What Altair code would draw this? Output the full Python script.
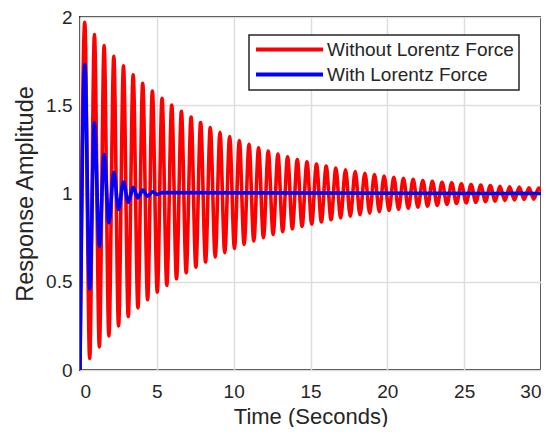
import altair as alt
import pandas as pd

# ---- data ----
series_names = ["Without Lorentz Force", "With Lorentz Force"]

# red curve (without Lorentz force): start point, peaks and troughs
red_start_t = [0.0]
red_start_v = [0.0]
red_peak_t = [0.31, 0.94, 1.57, 2.20, 2.83, 3.46, 4.08, 4.71, 5.34, 5.97, 6.60, 7.23,
              7.85, 8.48, 9.11, 9.74, 10.37, 11.00, 11.62, 12.25, 12.88, 13.51, 14.14, 14.77,
              15.39, 16.02, 16.65, 17.28, 17.91, 18.54, 19.16, 19.79, 20.42, 21.05, 21.68, 22.31,
              22.93, 23.56, 24.19, 24.82, 25.45, 26.08, 26.70, 27.33, 27.96, 28.59, 29.22, 29.85]
red_peak_v = [1.970, 1.901, 1.838, 1.778, 1.723, 1.672, 1.624, 1.580, 1.539, 1.501, 1.466, 1.433,
              1.402, 1.374, 1.347, 1.323, 1.300, 1.279, 1.259, 1.241, 1.224, 1.208, 1.193, 1.179,
              1.167, 1.155, 1.144, 1.134, 1.124, 1.115, 1.107, 1.099, 1.092, 1.086, 1.080, 1.074,
              1.069, 1.064, 1.060, 1.055, 1.051, 1.048, 1.045, 1.041, 1.038, 1.036, 1.033, 1.031]
red_trough_t = [0.63, 1.26, 1.88, 2.51, 3.14, 3.77, 4.40, 5.03, 5.65, 6.28, 6.91, 7.54,
                8.17, 8.80, 9.42, 10.05, 10.68, 11.31, 11.94, 12.57, 13.19, 13.82, 14.45, 15.08,
                15.71, 16.34, 16.96, 17.59, 18.22, 18.85, 19.48, 20.11, 20.73, 21.36, 21.99, 22.62,
                23.25, 23.88, 24.50, 25.13, 25.76, 26.39, 27.02, 27.65, 28.27, 28.90, 29.53, 30.16]
red_trough_v = [0.065, 0.131, 0.193, 0.250, 0.303, 0.352, 0.398, 0.441, 0.480, 0.517, 0.551, 0.583,
                0.612, 0.640, 0.665, 0.689, 0.711, 0.731, 0.750, 0.768, 0.784, 0.800, 0.814, 0.827,
                0.839, 0.851, 0.861, 0.871, 0.880, 0.889, 0.897, 0.904, 0.911, 0.917, 0.923, 0.928,
                0.933, 0.938, 0.943, 0.947, 0.950, 0.954, 0.957, 0.960, 0.963, 0.966, 0.968, 0.970]

# blue curve (with Lorentz force): start, extrema, then settled
blue_t = [0.0, 0.31, 0.63, 0.94, 1.26, 1.57, 1.88, 2.20, 2.51, 2.83, 3.14, 3.46,
          3.77, 4.08, 4.40, 4.71, 5.03, 5.34, 30.0]
blue_v = [0.0, 1.73, 0.46, 1.40, 0.70, 1.22, 0.835, 1.12, 0.91, 1.065, 0.95, 1.035,
          0.975, 1.02, 0.985, 1.01, 0.995, 1.005, 1.0]

x_ticks = [0, 5, 10, 15, 20, 25, 30]
y_ticks = [0, 0.5, 1, 1.5, 2]

# ---- tables ----
red_rows = sorted(
    list(zip(red_start_t, red_start_v))
    + list(zip(red_peak_t, red_peak_v))
    + list(zip(red_trough_t, red_trough_v))
)
red_df = pd.DataFrame(red_rows, columns=["t", "v"])
red_df["series"] = series_names[0]
blue_df = pd.DataFrame({"t": blue_t, "v": blue_v})
blue_df["series"] = series_names[1]

FONT = "Liberation Sans"
TXT = "#262626"

color_scale = alt.Scale(domain=series_names, range=["#ff0000", "#0000ff"])

x_enc = alt.X("t:Q", scale=alt.Scale(domain=[0, 30], nice=False),
              axis=alt.Axis(values=x_ticks, title="Time (Seconds)", format="~g"))
y_enc = alt.Y("v:Q", scale=alt.Scale(domain=[0, 2], nice=False),
              axis=alt.Axis(values=y_ticks, title="Response Amplitude", format="~g"))
col_enc = alt.Color(
    "series:N", scale=color_scale,
    legend=alt.Legend(
        title=None, orient="none", legendX=169, legendY=18,
        symbolType="M-6.7,0H6.7", symbolSize=100, symbolStrokeWidth=4,
        symbolOffset=26, labelOffset=28, labelLimit=400,
        labelFontSize=19, labelFont=FONT, labelColor=TXT,
        strokeColor="#262626", fillColor="white", padding=5,
        rowPadding=5,
    ),
)

red = alt.Chart(red_df).mark_line(strokeWidth=3.6, interpolate="monotone", clip=True).encode(
    x=x_enc, y=y_enc, color=col_enc)
blue = alt.Chart(blue_df).mark_line(strokeWidth=3.6, interpolate="monotone", clip=True).encode(
    x=x_enc, y=y_enc, color=col_enc)

chart = (
    alt.layer(red, blue)
    .properties(width=461, height=353, padding={"left": 5, "top": 0, "right": 0, "bottom": 0})
    .configure_view(stroke="#333333", strokeWidth=2)
    .configure_axis(
        grid=True, gridColor="#dedede", gridWidth=1.5, domain=False, ticks=False,
        labelFont=FONT, labelFontSize=19, labelColor=TXT, labelPadding=8,
        titleFont=FONT, titleFontSize=22, titleFontWeight="normal", titleColor=TXT,
    )
    .configure_axisY(titlePadding=8, titleFontSize=23.5)
    .configure_axisX(titlePadding=5, labelPadding=12)
    .configure_legend(strokeWidth=1.5)
)

chart.save("out.html", embed_options={"renderer": "svg", "actions": False})
